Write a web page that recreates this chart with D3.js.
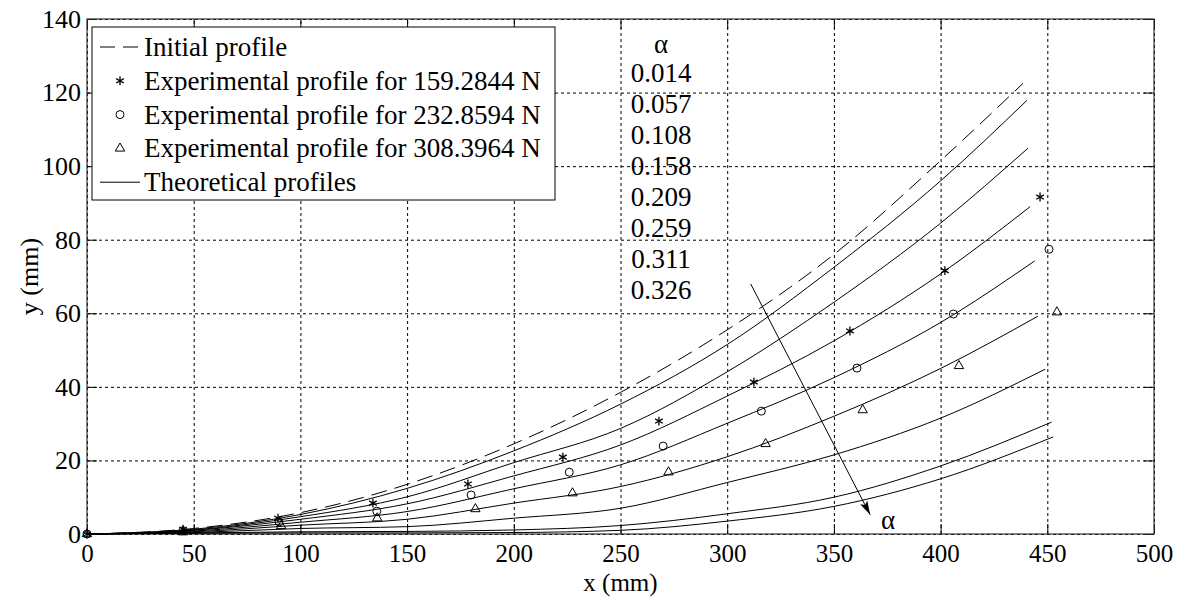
<!DOCTYPE html>
<html>
<head>
<meta charset="utf-8">
<script src="https://cdn.jsdelivr.net/npm/d3@7"></script>
<style>
  body { margin: 0; background: #fff; }
  text { font-family: "Liberation Serif", "Times New Roman", serif; fill: #000; }
</style>
</head>
<body>
<svg id="chart" width="1187" height="597"></svg>
<script>
// axis ticks
const xTicks = [0, 50, 100, 150, 200, 250, 300, 350, 400, 450, 500];
const yTicks = [0, 20, 40, 60, 80, 100, 120, 140];

// profiles are read at these x positions, plus an end point per curve
const profileX = [0, 50, 100, 150, 200, 250, 300, 350, 400];

// initial profile (dashed)
const initialEndX = 438.6;
const initialY = [0, 1.5, 5.8, 13.5, 24.5, 38.5, 55.5, 76, 101.5, 122.5];

// theoretical profiles, one per alpha
const alphas = ["0.014", "0.057", "0.108", "0.158", "0.209", "0.259", "0.311", "0.326"];
const theoryEndX = [440.5, 441, 442, 444, 445.6, 449, 452, 452.8];
const theoryY = [
  [0, 1.3, 5.3, 12.4, 22.6, 35.3, 51.5, 72.5, 96, 117.9],
  [0, 1.1, 4.7, 10.1, 19.4, 28.7, 44.1, 63, 84.5, 104.9],
  [0, 1.0, 4.0, 8.2, 15.8, 24.2, 37.5, 52.5, 70.7, 89],
  [0, 0.8, 3.2, 6.1, 12.3, 18.8, 30.1, 42.5, 57.5, 74.2],
  [0, 0.6, 2.4, 4.0, 8.4, 12.9, 21, 32, 45, 59.2],
  [0, 0.4, 1.5, 2.0, 4.3, 7.0, 14, 21.5, 31.5, 44.8],
  [0, 0.3, 0.6, 0.7, 1.1, 2.3, 5.5, 10, 18.5, 30.4],
  [0, 0.2, 0.3, 0.3, 0.4, 1.0, 3.5, 7.5, 15, 26.4]
];

// experimental profiles
const starX = [0, 45, 89.5, 134, 178.5, 223, 268, 312.5, 357.5, 402, 446.6];
const starY = [0, 1.3, 4.3, 8.4, 13.6, 20.9, 30.7, 41.3, 55.2, 71.6, 91.6];
const circleX = [0, 45, 90, 135.8, 180, 226, 270, 316, 360.8, 406, 450.8];
const circleY = [0, 0.9, 3.3, 6.2, 10.6, 16.8, 23.9, 33.4, 45.1, 59.8, 77.4];
const triX = [0, 45, 91, 136, 182, 227.5, 272.5, 318, 363.5, 408.6, 454.5];
const triY = [0, 0.5, 2.2, 4.3, 6.8, 11.1, 16.8, 24.5, 33.7, 45.7, 60.3];

const legendLabels = [
  "Initial profile",
  "Experimental profile for 159.2844 N",
  "Experimental profile for 232.8594 N",
  "Experimental profile for 308.3964 N",
  "Theoretical profiles"
];

// arrow across the theoretical profiles (data units)
const arrowFrom = [311, 68];
const arrowTo = [367, 5.2];

const svg = d3.select("#chart");
const pLeft = 87, pRight = 1154, pTop = 19, pBottom = 534;
const w = pRight - pLeft, h = pBottom - pTop;

const x = d3.scaleLinear().domain([0, 500]).range([pLeft, pRight]);
const y = d3.scaleLinear().domain([0, 140]).range([pBottom, pTop]);

// dotted grid
svg.append("g")
   .attr("transform", `translate(0,${pBottom})`)
   .call(d3.axisBottom(x).tickValues(xTicks).tickSize(-h).tickFormat(""))
   .call(g => g.select(".domain").remove())
   .selectAll("line").attr("stroke", "#000").attr("stroke-dasharray", "3,3");
svg.append("g")
   .attr("transform", `translate(${pLeft},0)`)
   .call(d3.axisLeft(y).tickValues(yTicks).tickSize(-w).tickFormat(""))
   .call(g => g.select(".domain").remove())
   .selectAll("line").attr("stroke", "#000").attr("stroke-dasharray", "3,3");

// axes with inward ticks
const fontSize = "25px";
svg.append("g")
   .attr("transform", `translate(0,${pBottom})`)
   .call(d3.axisBottom(x).tickValues(xTicks).tickSizeInner(-10).tickSizeOuter(0).tickPadding(10))
   .call(g => g.select(".domain").remove())
   .selectAll("text").style("font-size", fontSize).style("font-family", "Liberation Serif");
svg.append("g")
   .attr("transform", `translate(${pLeft},0)`)
   .call(d3.axisLeft(y).tickValues(yTicks).tickSizeInner(-10).tickSizeOuter(0).tickPadding(6))
   .call(g => g.select(".domain").remove())
   .selectAll("text").style("font-size", "26px").style("font-family", "Liberation Serif");
svg.append("g")
   .attr("transform", `translate(0,${pTop})`)
   .call(d3.axisTop(x).tickValues(xTicks).tickSizeInner(-10).tickSizeOuter(0).tickFormat(""))
   .call(g => g.select(".domain").remove());
svg.append("g")
   .attr("transform", `translate(${pRight},0)`)
   .call(d3.axisRight(y).tickValues(yTicks).tickSizeInner(-10).tickSizeOuter(0).tickFormat(""))
   .call(g => g.select(".domain").remove());

svg.append("rect")
   .attr("x", pLeft).attr("y", pTop).attr("width", w).attr("height", h)
   .attr("fill", "none").attr("stroke", "#333").attr("stroke-width", 1.2);

// curves
const line = d3.line()
   .x(d => x(d[0])).y(d => y(d[1]))
   .curve(d3.curveMonotoneX);

const initialPts = profileX.concat([initialEndX]).map((xv, i) => [xv, initialY[i]]);
svg.append("path")
   .attr("d", line(initialPts))
   .attr("fill", "none").attr("stroke", "#000").attr("stroke-width", 1)
   .attr("stroke-dasharray", "16,8");

svg.selectAll(".theory")
   .data(theoryY)
   .enter().append("path")
   .attr("class", "theory")
   .attr("d", (ys, k) => line(profileX.concat([theoryEndX[k]]).map((xv, i) => [xv, ys[i]])))
   .attr("fill", "none").attr("stroke", "#000").attr("stroke-width", 1);

// experimental markers
const star = d3.symbol().type(d3.symbolAsterisk).size(55);
const tri = d3.symbol().type(d3.symbolTriangle).size(38);

svg.selectAll(".star")
   .data(starX.map((xv, i) => [xv, starY[i]]))
   .enter().append("path")
   .attr("class", "star")
   .attr("transform", d => `translate(${x(d[0])},${y(d[1])})`)
   .attr("d", star)
   .attr("fill", "none").attr("stroke", "#000").attr("stroke-width", 1.3);

svg.selectAll(".circ")
   .data(circleX.map((xv, i) => [xv, circleY[i]]))
   .enter().append("circle")
   .attr("class", "circ")
   .attr("cx", d => x(d[0])).attr("cy", d => y(d[1])).attr("r", 4)
   .attr("fill", "none").attr("stroke", "#000").attr("stroke-width", 1);

svg.selectAll(".tri")
   .data(triX.map((xv, i) => [xv, triY[i]]))
   .enter().append("path")
   .attr("class", "tri")
   .attr("transform", d => `translate(${x(d[0])},${y(d[1])})`)
   .attr("d", tri)
   .attr("fill", "none").attr("stroke", "#000").attr("stroke-width", 1);

// arrow
svg.append("defs").append("marker")
   .attr("id", "head")
   .attr("viewBox", "0 0 14 8")
   .attr("refX", 14).attr("refY", 4)
   .attr("markerWidth", 14).attr("markerHeight", 8)
   .attr("markerUnits", "userSpaceOnUse")
   .attr("orient", "auto")
   .append("path").attr("d", "M0,0 L14,4 L0,8 L3,4 Z").attr("fill", "#000");

svg.append("line")
   .attr("x1", x(arrowFrom[0])).attr("y1", y(arrowFrom[1]))
   .attr("x2", x(arrowTo[0])).attr("y2", y(arrowTo[1]))
   .attr("stroke", "#000").attr("stroke-width", 1)
   .attr("marker-end", "url(#head)");

svg.append("text")
   .attr("x", x(arrowTo[0]) + 18).attr("y", y(arrowTo[1]) + 14)
   .attr("text-anchor", "middle")
   .style("font-size", "27px")
   .text("α");

// alpha list
const alphaG = svg.append("g").attr("text-anchor", "middle").style("font-size", "27px");
alphaG.append("text").attr("x", 661).attr("y", 53).text("α");
alphaG.selectAll(".av")
   .data(alphas)
   .enter().append("text")
   .attr("class", "av")
   .attr("x", 661)
   .attr("y", (d, i) => 82 + i * 31)
   .text(d => d);

// legend
const lg = svg.append("g");
lg.append("rect")
  .attr("x", 92).attr("y", 27).attr("width", 463).attr("height", 173)
  .attr("fill", "#fff").attr("stroke", "#000").attr("stroke-width", 1);

const rowY = i => 47 + i * 33.8;
lg.selectAll(".lt")
  .data(legendLabels)
  .enter().append("text")
  .attr("class", "lt")
  .attr("x", 144)
  .attr("y", (d, i) => rowY(i) + 9)
  .style("font-size", "27px")
  .text(d => d);

lg.append("line")
  .attr("x1", 100).attr("x2", 140).attr("y1", rowY(0)).attr("y2", rowY(0))
  .attr("stroke", "#000").attr("stroke-dasharray", "15,8");
lg.append("path")
  .attr("transform", `translate(120,${rowY(1)})`)
  .attr("d", star)
  .attr("fill", "none").attr("stroke", "#000").attr("stroke-width", 1.3);
lg.append("circle")
  .attr("cx", 120).attr("cy", rowY(2)).attr("r", 4)
  .attr("fill", "none").attr("stroke", "#000");
lg.append("path")
  .attr("transform", `translate(120,${rowY(3)})`)
  .attr("d", tri)
  .attr("fill", "none").attr("stroke", "#000");
lg.append("line")
  .attr("x1", 100).attr("x2", 140).attr("y1", rowY(4)).attr("y2", rowY(4))
  .attr("stroke", "#000");

// axis titles
svg.append("text")
   .attr("x", (pLeft + pRight) / 2).attr("y", 591)
   .attr("text-anchor", "middle")
   .style("font-size", fontSize)
   .text("x (mm)");
svg.append("text")
   .attr("transform", `translate(38,${(pTop + pBottom) / 2}) rotate(-90)`)
   .attr("text-anchor", "middle")
   .style("font-size", "26px")
   .text("y (mm)");
</script>
</body>
</html>
